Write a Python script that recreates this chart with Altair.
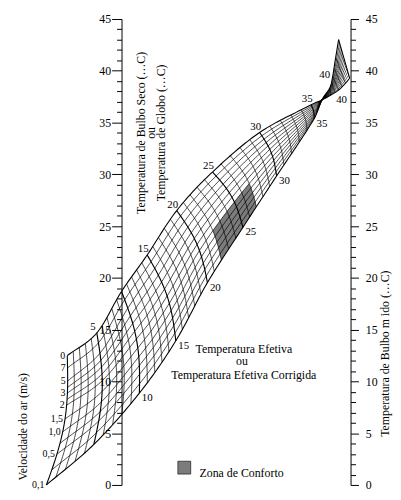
import numpy as np
import pandas as pd
import altair as alt

# ---------------- data ----------------
# vertical scales (°C): dry bulb / globe on the left, wet bulb on the right
TEMP_TICKS = list(range(0, 46))

# Effective-temperature grid. x = horizontal position in % of the gap between the
# dry-bulb axis (0) and the wet-bulb axis (100); y = °C on the vertical scales.
ET_KEYS = [0, 5, 10, 15, 20, 25, 30, 35, 36.5, 38, 40, 42, 43]
EDGE_SLOW_X = [-32.8, -12.1, 7.8, 23.7, 37.5, 53.0, 67.7, 84.1, 87.5, 90.9, 92.2, 93.5, 94.8]
EDGE_SLOW_Y = [0.0, 3.91, 8.87, 13.92, 19.54, 24.88, 29.84, 35.37, 37.18, 38.33, 39.47, 41.28, 43.00]
EDGE_FAST_X = [-23.7, -10.8, 0.0, 11.2, 24.1, 39.7, 60.3, 82.8, 87.5, 91.4, 94.8, 97.8, 99.6]
EDGE_FAST_Y = [12.49, 14.68, 18.69, 22.21, 26.50, 30.22, 34.04, 36.71, 37.18, 37.66, 38.14, 38.80, 39.28]
ET_BOW = [8, 7, 6.5, 6, 5.5, 5, 3.5, 1, 0, 0, 0, 0, 0]

# air velocity curves (m/s) and where each starts along the left edge (0 = bottom, 1 = top)
VELOCITIES = [0.1, 0.3, 0.5, 0.75, 1.0, 1.5, 2.0, 2.5, 3.0, 4.0, 5.0, 7.0, 10.0]
VEL_LABELS = ["0,1", "", "0,5", "", "1,0", "1,5", "2", "", "3", "", "5", "7", "0"]
VEL_START = [0.0, 0.12, 0.244, 0.33, 0.42, 0.52, 0.626, 0.67, 0.718, 0.76, 0.809, 0.908, 1.0]

ET_LINES = list(range(0, 37)) + [37, 38, 39, 40, 41, 42, 43]
ET_BOLD = [5, 10, 15, 20, 25, 30, 35]
ET_TOP_LABELS = [5, 15, 20, 25, 30, 35]
ET_BOTTOM_LABELS = [10, 15, 20, 25, 30, 35]
ET_FAN_LABEL = 40

COMFORT_ET = [22, 27]
COMFORT_VEL = [0.1, 1.5]

NOTE_TEXT = ["Temperatura  Efetiva", "ou", "Temperatura Efetiva Corrigida"]
NOTE_X = [53.4, 52.6, 53.4]
NOTE_Y = [13.16, 11.92, 10.58]

LEFT_TITLE = ["Temperatura de Bulbo Seco (…C)", "ou", "Temperatura de Globo (…C)"]
LEFT_TITLE_X = [8.6, 12.9, 17.2]
LEFT_TITLE_Y = [34.0, 34.0, 34.0]
VEL_TITLE = ("Velocidade do ar (m/s)", -43.1, 5.62)
RIGHT_TITLE = ("Temperatura de Bulbo  m ido (…C)", 115.0, 12.68)
LEGEND = ("Zona de Conforto", 27.4, 1.67, 34.05, 1.14)

# ---------------- geometry helpers ----------------
W, H = 232, 472
SX, SY = W / 100.0, H / 45.0


def to_px(x, y):
    return np.asarray(x, float) * SX, (45 - np.asarray(y, float)) * SY


def to_data(px, py):
    return px / SX, 45 - py / SY


def herm(tk, vals, t):
    tk = np.asarray(tk, float)
    v = np.asarray(vals, float)
    n = len(tk)
    m = np.zeros(n)
    for i in range(n):
        if i == 0:
            m[i] = (v[1] - v[0]) / (tk[1] - tk[0])
        elif i == n - 1:
            m[i] = (v[-1] - v[-2]) / (tk[-1] - tk[-2])
        else:
            m[i] = (v[i + 1] - v[i - 1]) / (tk[i + 1] - tk[i - 1])
    t = np.atleast_1d(np.asarray(t, float))
    idx = np.clip(np.searchsorted(tk, t, side="right") - 1, 0, n - 2)
    h = tk[idx + 1] - tk[idx]
    s = (t - tk[idx]) / h
    h00 = 2 * s**3 - 3 * s**2 + 1
    h10 = s**3 - 2 * s**2 + s
    h01 = -2 * s**3 + 3 * s**2
    h11 = s**3 - s**2
    return h00 * v[idx] + h10 * h * m[idx] + h01 * v[idx + 1] + h11 * h * m[idx + 1]


SLOW_PX, SLOW_PY = to_px(EDGE_SLOW_X, EDGE_SLOW_Y)
FAST_PX, FAST_PY = to_px(EDGE_FAST_X, EDGE_FAST_Y)


def point(t, g):
    t = np.atleast_1d(np.asarray(t, float))
    g = np.asarray(g, float) * np.ones_like(t) if np.ndim(g) == 0 else np.asarray(g, float)
    bx, by = herm(ET_KEYS, SLOW_PX, t), herm(ET_KEYS, SLOW_PY, t)
    tx, ty = herm(ET_KEYS, FAST_PX, t), herm(ET_KEYS, FAST_PY, t)
    dx, dy = tx - bx, ty - by
    L = np.hypot(dx, dy)
    L = np.where(L < 1e-6, 1.0, L)
    nx, ny = -dy / L, dx / L
    b = np.interp(t, ET_KEYS, ET_BOW) * np.sin(np.pi * g)
    return to_data(bx + g * dx + b * nx, by + g * dy + b * ny)


NK = len(VELOCITIES) - 1


def gk(k, t):
    s = np.clip(np.asarray(t, float) / 12.0, 0, 1)
    return VEL_START[k] * (1 - s) + (k / NK) * s


rows = []
lid = 0
# velocity curves
tt = np.arange(0, 43.0001, 0.25)
for k in range(len(VELOCITIES)):
    xs, ys = point(tt, gk(k, tt))
    cls = "edge" if k in (0, NK) else "thin"
    for i, (a, b) in enumerate(zip(xs, ys)):
        rows.append({"id": lid, "seq": i, "x": a, "y": b, "cls": cls})
    lid += 1
# effective temperature lines
gg = np.linspace(0, 1, 31)
for t in ET_LINES:
    if t <= 36:
        g_lo, g_hi = gk(0, t), gk(NK, t)
    else:
        g_lo, g_hi = 0.0, 1.0
    g = g_lo + gg * (g_hi - g_lo)
    xs, ys = point(np.full_like(g, t), g)
    cls = "edge" if t in (0, 43) else ("bold" if t in ET_BOLD else "thin")
    for i, (a, b) in enumerate(zip(xs, ys)):
        rows.append({"id": lid, "seq": i, "x": a, "y": b, "cls": cls})
    lid += 1
mesh = pd.DataFrame(rows)

# comfort zone polygon (between two ET lines and two velocity curves)
k_lo, k_hi = VELOCITIES.index(COMFORT_VEL[0]), VELOCITIES.index(COMFORT_VEL[1])
t0, t1 = COMFORT_ET
ts = np.linspace(t0, t1, 30)
gs = np.linspace(gk(k_hi, t1), gk(k_lo, t1), 15)
ux1, uy1 = point(ts, gk(k_hi, ts))
ux2, uy2 = point(np.full_like(gs, t1), gs)
gs0 = np.linspace(gk(k_hi, t0), gk(k_lo, t0), 15)
lx1, ly1 = point(np.full_like(gs0, t0), gs0)
lx2, ly2 = point(ts, gk(k_lo, ts))
ux, uy = np.concatenate([ux1, ux2]), np.concatenate([uy1, uy2])
lx, ly = np.concatenate([lx1, lx2]), np.concatenate([ly1, ly2])
ou, ol = np.argsort(ux), np.argsort(lx)
xx = np.unique(np.concatenate([ux, lx]))
comfort = pd.DataFrame({
    "x": xx,
    "top": np.interp(xx, ux[ou], uy[ou]),
    "bot": np.interp(xx, lx[ol], ly[ol]),
})

# label tables
vx, vy = [], []
for k in range(len(VELOCITIES)):
    a, b = point(0.0, gk(k, 0.0))
    vx.append(a[0]); vy.append(b[0])
vel_lab = pd.DataFrame({"x": vx, "y": vy, "t": VEL_LABELS})
vel_lab = vel_lab[vel_lab.t != ""]

top_rows = []
for t in ET_TOP_LABELS:
    a, b = point(float(t), 1.0)
    top_rows.append({"x": a[0], "y": b[0], "t": str(t)})
bot_rows = []
for t in ET_BOTTOM_LABELS:
    a, b = point(float(t), 0.0)
    bot_rows.append({"x": a[0], "y": b[0], "t": str(t)})
a, b = point(float(ET_FAN_LABEL), 0.0)
fanL = pd.DataFrame([{"x": a[0], "y": b[0], "t": str(ET_FAN_LABEL)}])
a, b = point(float(ET_FAN_LABEL), 1.0)
fanR = pd.DataFrame([{"x": a[0], "y": b[0], "t": str(ET_FAN_LABEL)}])

# ---------------- chart ----------------
FONT = "Liberation Serif"
XS = alt.Scale(domain=[0, 100], nice=False, zero=False)
YS = alt.Scale(domain=[0, 45], nice=False, zero=False)


def enc_xy(axis=None):
    return dict(x=alt.X("x:Q", scale=XS, axis=None), y=alt.Y("y:Q", scale=YS, axis=axis))


def line_layer(cls, width):
    return alt.Chart(mesh[mesh.cls == cls]).mark_line(
        color="black", strokeWidth=width, strokeJoin="round"
    ).encode(detail="id:N", order="seq:Q", **enc_xy())


def text_layer(df, **kw):
    base = dict(font=FONT, fontSize=11, color="black")
    base.update(kw)
    return alt.Chart(df).mark_text(**base).encode(text="t:N", **enc_xy())


major = "datum.value % 5 === 0"
left_axis = alt.Axis(
    orient="left", values=TEMP_TICKS, title=None, grid=False,
    labelExpr=f"{major} ? datum.label : ''", labelOverlap=False,
    tickSize={"condition": {"test": major, "value": 10}, "value": 5},
    tickColor="black", tickWidth=1, domainColor="black", domainWidth=1,
    labelFont=FONT, labelFontSize=12, labelColor="black", labelPadding=1,
)
right_axis = alt.Axis(
    orient="right", values=TEMP_TICKS, title=None, grid=False,
    labelExpr=f"{major} ? datum.label : ''", labelOverlap=False,
    tickSize={"condition": {"test": major, "value": 8}, "value": 5},
    tickColor="black", tickWidth=1, domainColor="black", domainWidth=1,
    labelFont=FONT, labelFontSize=12, labelColor="black", labelPadding=7,
)
ticks = pd.DataFrame({"v": TEMP_TICKS})
left_ax = alt.Chart(ticks).mark_point(opacity=0).encode(
    x=alt.value(0), y=alt.Y("v:Q", scale=YS, axis=left_axis))
right_ax = alt.Chart(ticks).mark_point(opacity=0).encode(
    x=alt.value(0), y=alt.Y("v:Q", scale=YS, axis=right_axis))

ZONE_GREY = "#7c7c7c"
zone = alt.Chart(comfort).mark_area(color=ZONE_GREY, opacity=1).encode(
    x=alt.X("x:Q", scale=XS, axis=None),
    y=alt.Y("top:Q", scale=YS, axis=None),
    y2="bot:Q",
)

notes = pd.DataFrame({"x": NOTE_X, "y": NOTE_Y, "t": NOTE_TEXT})
ltitle = pd.DataFrame({"x": LEFT_TITLE_X, "y": LEFT_TITLE_Y, "t": LEFT_TITLE})
vtitle = pd.DataFrame([{"x": VEL_TITLE[1], "y": VEL_TITLE[2], "t": VEL_TITLE[0]}])
rtitle = pd.DataFrame([{"x": RIGHT_TITLE[1], "y": RIGHT_TITLE[2], "t": RIGHT_TITLE[0]}])
leg_sq = pd.DataFrame([{"x": LEGEND[1], "y": LEGEND[2], "t": ""}])
leg_tx = pd.DataFrame([{"x": LEGEND[3], "y": LEGEND[4], "t": LEGEND[0]}])

legend_square = alt.Chart(leg_sq).mark_square(
    size=170, fill=ZONE_GREY, fillOpacity=1, stroke="black", strokeWidth=0.6
).encode(**enc_xy())

chart = alt.layer(
    left_ax,
    right_ax,
    zone,
    line_layer("thin", 0.7),
    line_layer("bold", 1.15),
    line_layer("edge", 1.1),
    text_layer(vel_lab, align="right", baseline="middle", dx=-2, fontSize=10),
    text_layer(pd.DataFrame(top_rows), align="center", baseline="middle", dx=-4, dy=-6),
    text_layer(pd.DataFrame(bot_rows), align="center", baseline="middle", dx=8, dy=5),
    text_layer(fanL, align="center", baseline="middle", dx=-8, dy=-1),
    text_layer(fanR, align="center", baseline="middle", dx=3, dy=10),
    text_layer(notes, align="center", baseline="middle", fontSize=12),
    text_layer(ltitle, align="center", baseline="middle", angle=270, fontSize=12),
    text_layer(vtitle, align="center", baseline="middle", angle=270, fontSize=12),
    text_layer(rtitle, align="center", baseline="middle", angle=270, fontSize=12),
    legend_square,
    text_layer(leg_tx, align="left", baseline="middle", fontSize=12),
).resolve_scale(y="independent").properties(
    width=W, height=H,
    padding={"left": 115, "top": 8, "right": 43, "bottom": 4},
    autosize=alt.AutoSizeParams(type="none"),
).configure_view(stroke=None)

chart.save("out.html", embed_options={"renderer": "svg", "actions": False})
